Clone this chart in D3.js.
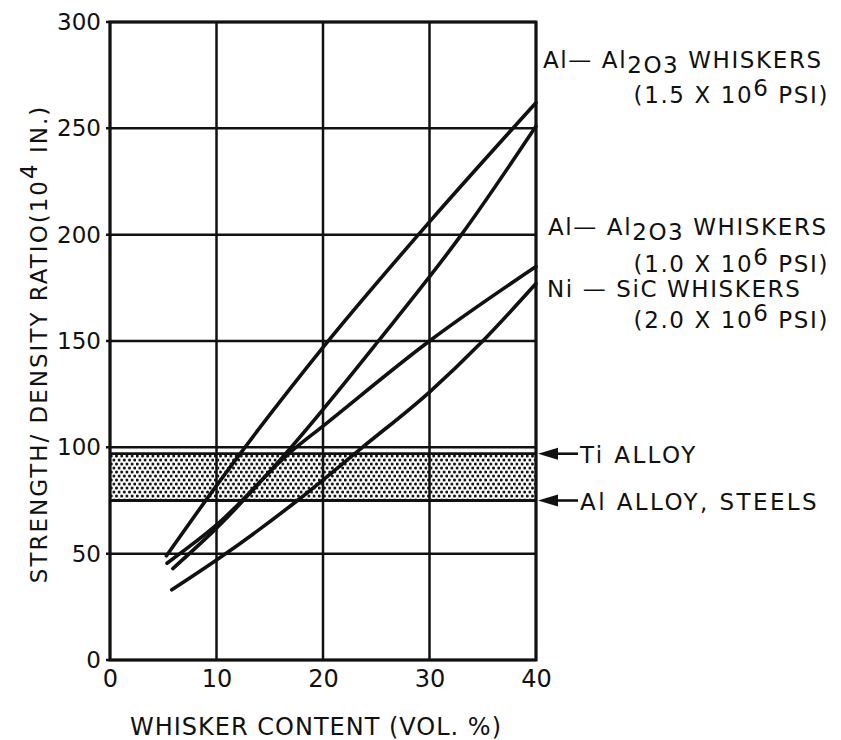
<!DOCTYPE html>
<html>
<head>
<meta charset="utf-8">
<script src="https://cdn.jsdelivr.net/npm/d3@7"></script>
<style>
  body { margin: 0; background: #fff; }
  text { font-family: "DejaVu Sans", sans-serif; fill: #111; }
</style>
</head>
<body>
<div id="chart"></div>
<script>
// values
var xTicks = [0, 10, 20, 30, 40];
var yTicks = [0, 50, 100, 150, 200, 250, 300];

var alOxide15X = [5.3, 10, 20, 30, 40];
var alOxide15Y = [49, 82, 147, 206, 262];

var alOxide10X = [5.9, 10, 17, 25.2, 33, 40];
var alOxide10Y = [43, 62, 100, 150, 200, 251];

var niSicX = [5.35, 10, 17, 20, 30, 40];
var niSicY = [45.5, 63.5, 98, 110, 150, 185];

var lowX = [5.8, 10, 17.6, 23.7, 30, 35, 40];
var lowY = [33, 47, 75, 100, 126, 150, 177];

var bandLow = 75, bandHigh = 97;

var margin = { top: 22, right: 305, bottom: 80, left: 110 },
    width = 841 - margin.left - margin.right,
    height = 740 - margin.top - margin.bottom;

var svgRoot = d3.select("#chart").append("svg")
    .attr("width", 841)
    .attr("height", 740);

var svg = svgRoot.append("g")
    .attr("transform", "translate(" + margin.left + "," + margin.top + ")");

var x = d3.scaleLinear().domain([0, 40]).range([0, width]);
var y = d3.scaleLinear().domain([0, 300]).range([height, 0]);

// stipple for the alloy band
var pat = svgRoot.append("defs").append("pattern")
    .attr("id", "dots")
    .attr("patternUnits", "userSpaceOnUse")
    .attr("width", 5.2)
    .attr("height", 8);
pat.append("circle").attr("cx", 1.3).attr("cy", 2).attr("r", 1.5).attr("fill", "#111");
pat.append("circle").attr("cx", 3.9).attr("cy", 6).attr("r", 1.5).attr("fill", "#111");

svg.append("rect")
    .attr("x", 0)
    .attr("y", y(bandHigh))
    .attr("width", width)
    .attr("height", y(bandLow) - y(bandHigh))
    .attr("fill", "url(#dots)");

[bandLow, bandHigh].forEach(function(v) {
    svg.append("line")
        .attr("x1", 0).attr("x2", width)
        .attr("y1", y(v)).attr("y2", y(v))
        .attr("stroke", "#111").attr("stroke-width", 2.8);
});

// grid
svg.append("g").selectAll("line")
    .data(yTicks)
    .enter()
    .append("line")
    .attr("x1", -4).attr("x2", width)
    .attr("y1", function(d) { return y(d); })
    .attr("y2", function(d) { return y(d); })
    .attr("stroke", "#111").attr("stroke-width", 2.5);

svg.append("g").selectAll("line")
    .data(xTicks)
    .enter()
    .append("line")
    .attr("x1", function(d) { return x(d); })
    .attr("x2", function(d) { return x(d); })
    .attr("y1", 0).attr("y2", height)
    .attr("stroke", "#111").attr("stroke-width", 2.5);

svg.append("rect")
    .attr("width", width).attr("height", height)
    .attr("fill", "none")
    .attr("stroke", "#111").attr("stroke-width", 3);

// axes (labels only, grid drawn above)
var yAxis = svg.append("g")
    .call(d3.axisLeft(y).tickValues(yTicks).tickSize(0).tickPadding(9));
yAxis.select(".domain").remove();
yAxis.selectAll("text")
    .style("font-size", "23px")
    .style("font-family", "DejaVu Sans");

var xAxis = svg.append("g")
    .attr("transform", "translate(0," + height + ")")
    .call(d3.axisBottom(x).tickValues(xTicks).tickSize(0).tickPadding(10));
xAxis.select(".domain").remove();
xAxis.selectAll("text")
    .style("font-size", "24px")
    .style("font-family", "DejaVu Sans");

// curves
var line = d3.line()
    .x(function(d) { return x(d[0]); })
    .y(function(d) { return y(d[1]); })
    .curve(d3.curveMonotoneX);

[[alOxide15X, alOxide15Y], [alOxide10X, alOxide10Y], [niSicX, niSicY], [lowX, lowY]].forEach(function(s) {
    svg.append("path")
        .datum(d3.zip(s[0], s[1]))
        .attr("d", line)
        .attr("fill", "none")
        .attr("stroke", "#111")
        .attr("stroke-width", 3.6)
        .attr("stroke-linecap", "round");
});

// axis titles
svgRoot.append("text")
    .attr("x", 316)
    .attr("y", 735)
    .attr("text-anchor", "middle")
    .style("font-size", "24px")
    .style("letter-spacing", "1px")
    .text("WHISKER CONTENT (VOL. %)");

var yTitle = svgRoot.append("text")
    .attr("transform", "translate(47,344) rotate(-90)")
    .attr("text-anchor", "middle")
    .style("font-size", "23px")
    .style("letter-spacing", "2px");
yTitle.append("tspan").text("STRENGTH/ DENSITY RATIO(10");
yTitle.append("tspan").attr("dy", -10).text("4");
yTitle.append("tspan").attr("dy", 10).text(" IN.)");

// right side labels
function whiskerLine(xp, yp) {
    var t = svgRoot.append("text")
        .attr("x", xp).attr("y", yp)
        .style("font-size", "23px")
        .style("letter-spacing", "1.6px");
    t.append("tspan").text("Al\u2014 Al");
    t.append("tspan").attr("dy", 5).text("2O3");
    t.append("tspan").attr("dy", -5).text(" WHISKERS");
}
function psiLine(xp, yp, val) {
    var t = svgRoot.append("text")
        .attr("x", xp).attr("y", yp)
        .attr("text-anchor", "end")
        .style("font-size", "23px")
        .style("letter-spacing", "1.6px");
    t.append("tspan").text("(" + val + " X 10");
    t.append("tspan").attr("dy", -7).text("6");
    t.append("tspan").attr("dy", 7).text(" PSI)");
}

whiskerLine(543, 68);
psiLine(829, 103, "1.5");
whiskerLine(548, 235);
psiLine(829, 272, "1.0");
svgRoot.append("text")
    .attr("x", 547).attr("y", 297)
    .style("font-size", "23px")
    .style("letter-spacing", "1.6px")
    .text("Ni \u2014 SiC WHISKERS");
psiLine(829, 328, "2.0");

// alloy arrows
var arrows = [[bandHigh, "Ti ALLOY"], [bandLow, "Al ALLOY, STEELS"]];
arrows.forEach(function(a) {
    var yy = margin.top + y(a[0]);
    var x0 = margin.left + width + 2;
    svgRoot.append("line")
        .attr("x1", x0 + 14).attr("x2", x0 + 40)
        .attr("y1", yy).attr("y2", yy)
        .attr("stroke", "#111").attr("stroke-width", 2.6);
    svgRoot.append("path")
        .attr("d", "M" + x0 + "," + yy + "L" + (x0 + 20) + "," + (yy - 6) + "L" + (x0 + 20) + "," + (yy + 6) + "Z")
        .attr("fill", "#111");
    svgRoot.append("text")
        .attr("x", x0 + 42).attr("y", yy + 9)
        .style("font-size", "23px")
        .style("letter-spacing", "2.4px")
        .text(a[1]);
});
</script>
</body>
</html>
